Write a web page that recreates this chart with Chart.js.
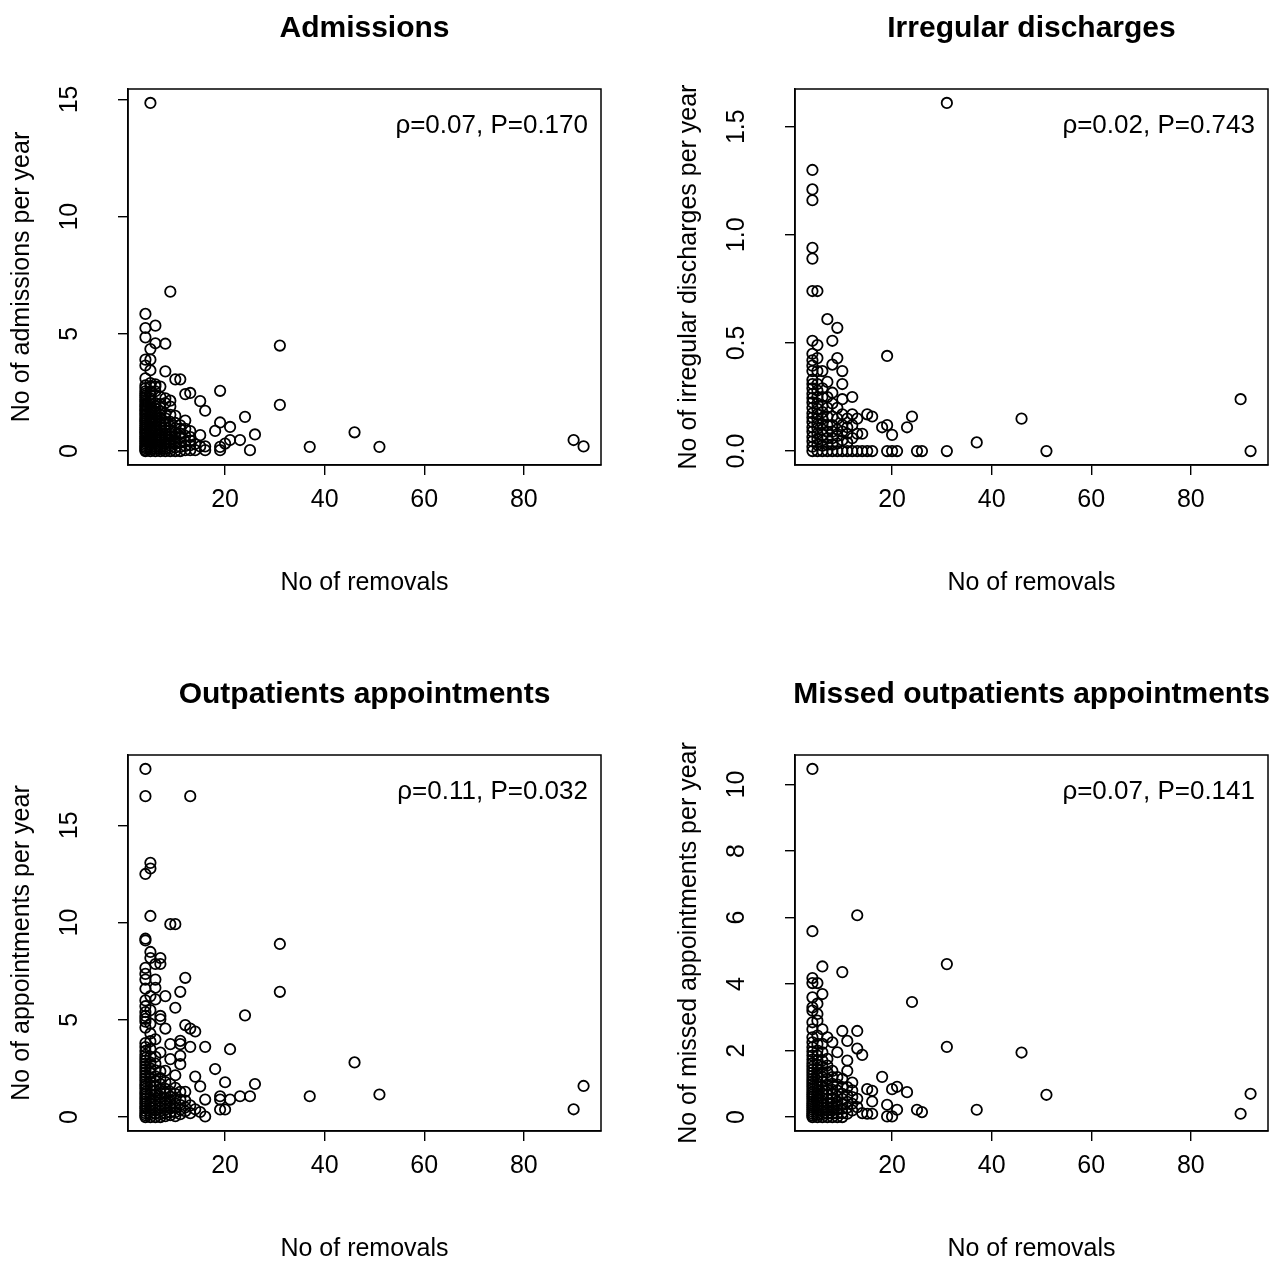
<!DOCTYPE html>
<html>
<head>
<meta charset="utf-8">
<title>Removals vs hospital use</title>
<script src="https://cdn.jsdelivr.net/npm/chart.js@4.4.1/dist/chart.umd.min.js"></script>
<style>
  html, body { margin: 0; padding: 0; background: #fff; }
  body { width: 1285px; height: 1261px; position: relative; overflow: hidden; }
  canvas { position: absolute; }
</style>
</head>
<body>
<canvas id="admissions-chart" width="660" height="640" style="left:0;top:0"></canvas>
<canvas id="discharges-chart" width="618" height="640" style="left:667px;top:0"></canvas>
<canvas id="outpatients-chart" width="660" height="595" style="left:0;top:666px"></canvas>
<canvas id="missed-chart" width="618" height="595" style="left:667px;top:666px"></canvas>
<script>
// Shared x axis (number of removals)
const removalTicks = [20, 40, 60, 80];

// Tick values / labels for each y axis
const admissionTicks = [0, 5, 10, 15];
const dischargeTicks = [0, 0.5, 1, 1.5];
const dischargeTickLabels = ['0.0', '0.5', '1.0', '1.5'];
const outpatientTicks = [0, 5, 10, 15];
const missedTicks = [0, 2, 4, 6, 8, 10];

// Each row: [no of removals, values per year for patients with that many removals]
const admissionsRows = [
    [4, [0.00, 0.05, 0.12, 0.18, 0.25, 0.33, 0.40, 0.47, 0.55, 0.61, 0.70, 0.78, 0.85, 0.93, 1.00, 1.08, 1.17, 1.25, 1.33, 1.40, 1.50, 1.58, 1.67, 1.75, 1.83, 1.92, 2.00, 2.10, 2.18, 2.27, 2.36, 2.45, 2.55, 2.68, 2.80, 3.10, 3.65, 3.90, 4.85, 5.25, 5.85]],
    [5, [0.00, 0.08, 0.17, 0.26, 0.35, 0.43, 0.52, 0.60, 0.70, 0.80, 0.88, 0.97, 1.06, 1.15, 1.25, 1.35, 1.45, 1.55, 1.65, 1.76, 1.87, 2.00, 2.12, 2.25, 2.40, 2.55, 2.75, 2.90, 3.45, 3.90, 4.35, 14.85]],
    [6, [0.00, 0.10, 0.20, 0.30, 0.42, 0.53, 0.63, 0.75, 0.85, 0.95, 1.07, 1.18, 1.30, 1.42, 1.55, 1.68, 1.80, 1.93, 2.05, 2.55, 2.75, 2.85, 4.60, 5.35]],
    [7, [0.00, 0.09, 0.18, 0.27, 0.37, 0.47, 0.57, 0.67, 0.78, 0.88, 1.00, 1.12, 1.25, 1.40, 1.55, 1.70, 1.85, 2.00, 2.30, 2.75]],
    [8, [0.00, 0.10, 0.20, 0.30, 0.40, 0.52, 0.64, 0.75, 0.88, 1.00, 1.12, 1.25, 1.40, 1.60, 2.05, 2.25, 3.40, 4.58]],
    [9, [0.00, 0.12, 0.24, 0.36, 0.48, 0.60, 0.75, 0.90, 1.05, 1.25, 1.55, 1.90, 2.15, 6.80]],
    [10, [0.00, 0.15, 0.30, 0.45, 0.62, 0.80, 0.98, 1.20, 1.50, 3.06]],
    [11, [0.00, 0.18, 0.36, 0.55, 0.75, 0.95, 1.10, 3.06]],
    [12, [0.04, 0.22, 0.40, 0.65, 0.95, 1.30, 2.43]],
    [13, [0.04, 0.25, 0.45, 0.60, 0.85, 2.48]],
    [14, [0.04, 0.30]],
    [15, [0.20, 0.68, 2.13]],
    [16, [0.04, 0.20, 1.72]],
    [18, [0.86]],
    [19, [0.04, 0.18, 1.22, 2.57]],
    [20, [0.32]],
    [21, [0.47, 1.03]],
    [23, [0.47]],
    [24, [1.46]],
    [25, [0.04]],
    [26, [0.71]],
    [31, [1.97, 4.50]],
    [37, [0.18]],
    [46, [0.80]],
    [51, [0.18]],
    [90, [0.47]],
    [92, [0.20]]
];

const dischargesRows = [
    [4, [0.000, 0.020, 0.045, 0.065, 0.090, 0.110, 0.135, 0.155, 0.175, 0.200, 0.225, 0.245, 0.265, 0.290, 0.310, 0.330, 0.370, 0.395, 0.420, 0.450, 0.510, 0.740, 0.890, 0.940, 1.160, 1.210, 1.300]],
    [5, [0.000, 0.030, 0.055, 0.080, 0.105, 0.125, 0.150, 0.170, 0.195, 0.220, 0.250, 0.280, 0.310, 0.370, 0.430, 0.490, 0.740]],
    [6, [0.000, 0.025, 0.050, 0.075, 0.100, 0.125, 0.150, 0.180, 0.210, 0.250, 0.290, 0.370]],
    [7, [0.000, 0.030, 0.060, 0.090, 0.120, 0.160, 0.200, 0.250, 0.320, 0.610]],
    [8, [0.000, 0.030, 0.060, 0.090, 0.120, 0.160, 0.220, 0.270, 0.400, 0.510]],
    [9, [0.000, 0.035, 0.070, 0.100, 0.150, 0.200, 0.430, 0.570]],
    [10, [0.000, 0.050, 0.090, 0.120, 0.170, 0.240, 0.310, 0.370]],
    [11, [0.000, 0.040, 0.080, 0.110, 0.150]],
    [12, [0.000, 0.060, 0.120, 0.170, 0.250]],
    [13, [0.000, 0.080, 0.150]],
    [14, [0.000, 0.080]],
    [15, [0.000, 0.170]],
    [16, [0.000, 0.160]],
    [18, [0.110]],
    [19, [0.000, 0.120, 0.440]],
    [20, [0.000, 0.075]],
    [21, [0.000]],
    [23, [0.110]],
    [24, [0.160]],
    [25, [0.000]],
    [26, [0.000]],
    [31, [0.000, 1.610]],
    [37, [0.040]],
    [46, [0.150]],
    [51, [0.000]],
    [90, [0.240]],
    [92, [0.000]]
];

const outpatientsRows = [
    [4, [0.00, 0.10, 0.20, 0.32, 0.45, 0.55, 0.68, 0.80, 0.93, 1.05, 1.18, 1.30, 1.45, 1.58, 1.70, 1.85, 2.00, 2.15, 2.30, 2.45, 2.60, 2.75, 2.90, 3.05, 3.20, 3.40, 3.60, 3.80, 4.60, 4.90, 5.05, 5.20, 5.40, 5.70, 6.00, 6.60, 7.07, 7.36, 7.67, 9.08, 9.17, 12.50, 16.50, 17.90]],
    [5, [0.00, 0.15, 0.30, 0.48, 0.65, 0.83, 1.00, 1.20, 1.40, 1.60, 1.80, 2.00, 2.25, 2.50, 2.80, 3.10, 3.50, 3.90, 4.30, 4.80, 5.50, 6.22, 8.18, 8.49, 10.34, 12.78, 13.07]],
    [6, [0.00, 0.18, 0.36, 0.55, 0.75, 0.95, 1.15, 1.35, 1.60, 1.85, 2.10, 2.40, 2.75, 3.10, 4.00, 6.05, 6.65, 7.07, 7.87]],
    [7, [0.00, 0.15, 0.30, 0.48, 0.65, 0.85, 1.05, 1.25, 1.45, 1.70, 2.00, 2.35, 3.32, 5.03, 5.20, 7.87, 8.18]],
    [8, [0.05, 0.20, 0.38, 0.55, 0.75, 0.95, 1.20, 1.45, 1.80, 2.38, 4.55, 6.22]],
    [9, [0.10, 0.25, 0.45, 0.65, 0.85, 1.05, 1.30, 1.70, 2.98, 3.75, 9.92]],
    [10, [0.05, 0.25, 0.48, 0.70, 0.95, 1.20, 1.50, 2.15, 5.62, 9.92]],
    [11, [0.15, 0.38, 0.62, 0.90, 1.30, 2.72, 3.15, 3.75, 3.92, 6.44]],
    [12, [0.30, 0.50, 0.85, 1.30, 4.73, 7.16]],
    [13, [0.20, 0.60, 3.61, 4.55, 16.50]],
    [14, [0.40, 2.08, 4.40]],
    [15, [0.26, 1.58]],
    [16, [0.03, 0.90, 3.61]],
    [18, [2.47]],
    [19, [0.39, 0.90, 1.07]],
    [20, [0.39, 1.79]],
    [21, [0.90, 3.49]],
    [23, [1.07]],
    [24, [5.23]],
    [25, [1.07]],
    [26, [1.70]],
    [31, [6.44, 8.90]],
    [37, [1.07]],
    [46, [2.81]],
    [51, [1.16]],
    [90, [0.40]],
    [92, [1.60]]
];

const missedRows = [
    [4, [0.00, 0.05, 0.10, 0.16, 0.22, 0.28, 0.34, 0.40, 0.47, 0.54, 0.61, 0.68, 0.75, 0.83, 0.91, 0.99, 1.07, 1.15, 1.24, 1.33, 1.42, 1.52, 1.62, 1.73, 1.85, 1.97, 2.10, 2.25, 2.40, 2.64, 2.85, 3.20, 3.30, 3.60, 4.03, 4.18, 5.59, 10.47]],
    [5, [0.00, 0.07, 0.14, 0.21, 0.29, 0.37, 0.45, 0.53, 0.62, 0.71, 0.80, 0.90, 1.00, 1.10, 1.21, 1.32, 1.44, 1.57, 1.70, 1.85, 2.00, 2.20, 2.45, 2.90, 3.10, 3.41, 4.03]],
    [6, [0.00, 0.09, 0.18, 0.27, 0.37, 0.47, 0.58, 0.69, 0.81, 0.93, 1.06, 1.20, 1.35, 1.52, 1.70, 1.95, 2.20, 2.64, 3.70, 4.53]],
    [7, [0.00, 0.10, 0.20, 0.30, 0.42, 0.54, 0.67, 0.82, 0.98, 1.15, 1.35, 1.55, 1.75, 2.40]],
    [8, [0.00, 0.10, 0.20, 0.31, 0.43, 0.55, 0.68, 0.82, 1.00, 1.20, 1.39, 2.25]],
    [9, [0.00, 0.11, 0.22, 0.34, 0.47, 0.62, 0.80, 0.98, 1.20, 1.95]],
    [10, [0.00, 0.12, 0.25, 0.40, 0.55, 0.70, 0.90, 1.15, 2.59, 4.36]],
    [11, [0.10, 0.28, 0.46, 0.65, 0.90, 1.39, 1.70, 2.29]],
    [12, [0.20, 0.40, 0.60, 0.80, 1.04]],
    [13, [0.30, 0.55, 2.06, 2.59, 6.07]],
    [14, [0.12, 1.87]],
    [15, [0.10, 0.84]],
    [16, [0.10, 0.47, 0.79]],
    [18, [1.21]],
    [19, [0.02, 0.37]],
    [20, [0.02, 0.84]],
    [21, [0.22, 0.91]],
    [23, [0.75]],
    [24, [3.46]],
    [25, [0.22]],
    [26, [0.15]],
    [31, [2.11, 4.60]],
    [37, [0.22]],
    [46, [1.94]],
    [51, [0.67]],
    [90, [0.10]],
    [92, [0.70]]
];

const FONT = '"Liberation Sans", Arial, Helvetica, sans-serif';

// Draws the R-style box, rotated y labels, titles and the rho/P note
const rStyle = {
    id: 'rStyle',
    afterDraw(chart, args, opts) {
        const ctx = chart.ctx;
        const area = chart.chartArea;
        const xScale = chart.scales.x;
        const yScale = chart.scales.y;
        const midX = (area.left + area.right) / 2;

        ctx.save();
        ctx.strokeStyle = '#000';
        ctx.lineWidth = 1.5;
        ctx.strokeRect(area.left, area.top, area.right - area.left, area.bottom - area.top);

        ctx.fillStyle = '#000';
        ctx.font = '25px ' + FONT;
        ctx.textAlign = 'center';
        ctx.textBaseline = 'middle';

        // x tick labels
        xScale.ticks.forEach(t => {
            ctx.fillText(String(t.value), xScale.getPixelForValue(t.value), area.bottom + 35);
        });

        // y tick labels, parallel to the axis
        yScale.ticks.forEach((t, i) => {
            ctx.save();
            ctx.translate(70, yScale.getPixelForValue(t.value));
            ctx.rotate(-Math.PI / 2);
            ctx.fillText(opts.yLabels[i], 0, 0);
            ctx.restore();
        });

        // axis titles
        ctx.fillText('No of removals', midX, area.bottom + 118);
        ctx.save();
        ctx.translate(22, (area.top + area.bottom) / 2);
        ctx.rotate(-Math.PI / 2);
        ctx.fillText(opts.yTitle, 0, 0);
        ctx.restore();

        // correlation note
        ctx.font = '26px ' + FONT;
        ctx.textAlign = 'right';
        ctx.fillText(opts.note, area.right - 13, area.top + 37);

        // main title
        ctx.font = 'bold 30px ' + FONT;
        ctx.textAlign = 'center';
        ctx.fillText(opts.title, midX, 29);
        ctx.restore();
    }
};

function axisStyle() {
    return {
        grid: { drawOnChartArea: false, drawTicks: true, tickLength: 10, color: '#000', lineWidth: 1.4 },
        border: { display: true, color: '#000', width: 1.5 },
        ticks: { color: 'rgba(0,0,0,0)', font: { size: 25, family: FONT } }
    };
}

function makePanel(id, rows, yMin, yMax, yTicks, yLabels, title, yTitle, note) {
    const points = [];
    rows.forEach(row => {
        row[1].forEach(v => points.push({ x: row[0], y: v }));
    });

    const canvas = document.getElementById(id);
    const plotBottom = 465;
    const plotRight = 601;

    return new Chart(canvas.getContext('2d'), {
        type: 'scatter',
        data: {
            datasets: [{
                data: points,
                pointStyle: 'circle',
                pointRadius: 5.2,
                pointBorderWidth: 1.8,
                pointBorderColor: '#000',
                pointBackgroundColor: 'rgba(0,0,0,0)'
            }]
        },
        options: {
            responsive: false,
            animation: false,
            events: [],
            layout: { padding: { top: 89, left: 0, right: canvas.width - plotRight, bottom: 0 } },
            plugins: {
                legend: { display: false },
                tooltip: { enabled: false },
                rStyle: { title: title, yTitle: yTitle, note: note, yLabels: yLabels }
            },
            scales: {
                x: Object.assign(axisStyle(), {
                    type: 'linear',
                    min: 0.5,
                    max: 95.5,
                    afterBuildTicks: s => { s.ticks = removalTicks.map(v => ({ value: v })); },
                    afterFit: s => { s.height = canvas.height - plotBottom; }
                }),
                y: Object.assign(axisStyle(), {
                    type: 'linear',
                    min: yMin,
                    max: yMax,
                    afterBuildTicks: s => { s.ticks = yTicks.map(v => ({ value: v })); },
                    afterFit: s => { s.width = 128; }
                })
            }
        },
        plugins: [rStyle]
    });
}

makePanel('admissions-chart', admissionsRows, -0.594, 15.444, admissionTicks,
    admissionTicks.map(String), 'Admissions', 'No of admissions per year', 'ρ=0.07, P=0.170');
makePanel('discharges-chart', dischargesRows, -0.0644, 1.6744, dischargeTicks,
    dischargeTickLabels, 'Irregular discharges', 'No of irregular discharges per year', 'ρ=0.02, P=0.743');
makePanel('outpatients-chart', outpatientsRows, -0.716, 18.616, outpatientTicks,
    outpatientTicks.map(String), 'Outpatients appointments', 'No of appointments per year', 'ρ=0.11, P=0.032');
makePanel('missed-chart', missedRows, -0.419, 10.889, missedTicks,
    missedTicks.map(String), 'Missed outpatients appointments', 'No of missed appointments per year', 'ρ=0.07, P=0.141');
</script>
</body>
</html>
